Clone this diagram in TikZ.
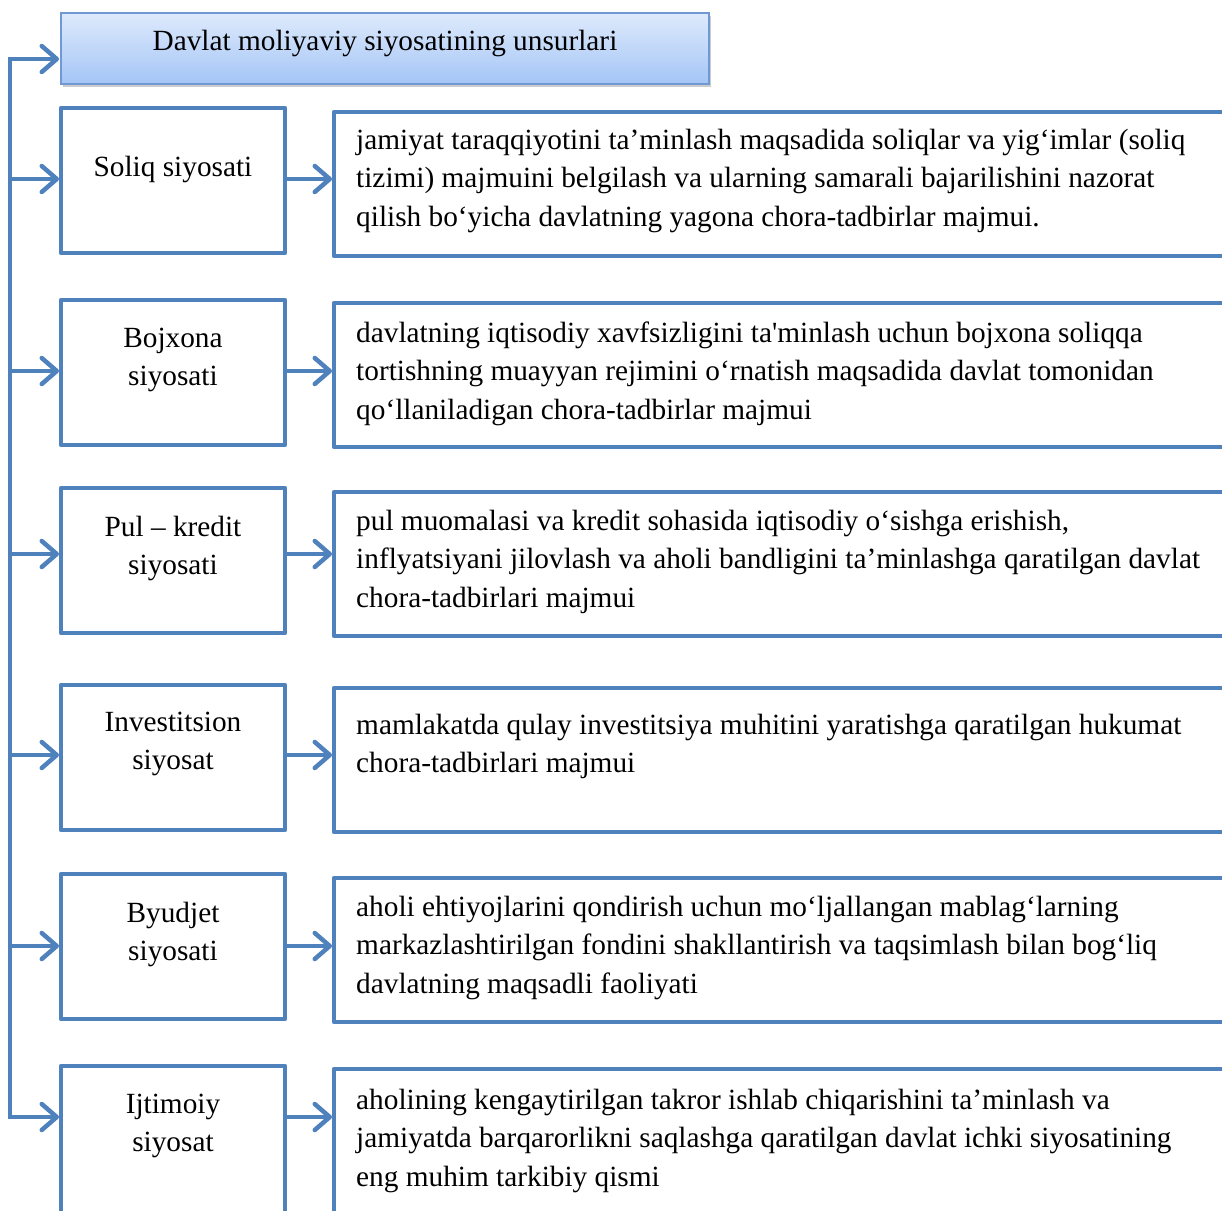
\documentclass[tikz,border=0pt]{standalone}
\usepackage{fontspec}
\setmainfont{Liberation Serif}
\usetikzlibrary{arrows.meta,shadows}

\definecolor{frame}{RGB}{79,129,189}
\definecolor{titletop}{RGB}{222,234,252}
\definecolor{titlebot}{RGB}{164,197,246}
\definecolor{titleedge}{RGB}{112,152,210}

\begin{document}
\begin{tikzpicture}[x=1pt,y=-1pt,
  panel/.style={draw=frame, line width=4.5pt, line join=round, rectangle,
    inner sep=0pt, outer sep=0pt, anchor=north west, fill=white},
  namebox/.style={panel, minimum width=224pt, minimum height=145pt},
  infobox/.style={panel, minimum width=920pt, minimum height=144pt},
  titlebox/.style={rectangle, draw=titleedge, line width=1.6pt, inner sep=0pt,
    outer sep=0pt, anchor=north west, minimum width=648pt, minimum height=71pt,
    top color=titletop, bottom color=titlebot,
    drop shadow={shadow xshift=1.5pt, shadow yshift=-3pt, fill=black!40}},
  link/.style={draw=frame, line width=4.5pt, line join=miter,
    -{Straight Barb[length=15pt,width=26pt,round]}, shorten >=2pt},
  txt/.style={inner sep=0pt, font=\fontsize{29.3}{38.5}\selectfont},
  infotext/.style={txt, anchor=base west},
  nametext/.style={txt, anchor=base}
]
\useasboundingbox (0,0) rectangle (1222,1210);
\clip (0,0) rectangle (1222,1210);

% heading
\node[titlebox] (title) at (61,13) {};
\node[nametext] (titletext) at (385,50) {Davlat moliyaviy siyosatining unsurlari};

% left-hand boxes with the policy names
\node[namebox] (l1) at (61,108)  {};
\node[namebox] (l2) at (61,300)  {};
\node[namebox] (l3) at (61,488)  {};
\node[namebox] (l4) at (61,685)  {};
\node[namebox] (l5) at (61,874)  {};
\node[namebox, minimum height=170pt] (l6) at (61,1066) {};

% right-hand boxes with the definitions
\node[infobox] (r1) at (334,112)  {};
\node[infobox] (r2) at (334,303)  {};
\node[infobox] (r3) at (334,492)  {};
\node[infobox] (r4) at (334,688)  {};
\node[infobox] (r5) at (334,878)  {};
\node[infobox, minimum height=170pt] (r6) at (334,1069) {};

% names
\node[nametext] (n1) at (173,176) {\parbox[t]{220pt}{\centering Soliq siyosati}};
\node[nametext] (n2) at (173,347) {\parbox[t]{220pt}{\centering Bojxona\\siyosati}};
\node[nametext] (n3) at (173,536) {\parbox[t]{220pt}{\centering Pul – kredit\\siyosati}};
\node[nametext] (n4) at (173,731) {\parbox[t]{220pt}{\centering Investitsion\\siyosat}};
\node[nametext] (n5) at (173,922) {\parbox[t]{220pt}{\centering Byudjet\\siyosati}};
\node[nametext] (n6) at (173,1113) {\parbox[t]{220pt}{\centering Ijtimoiy\\siyosat}};

% definitions
\node[infotext] (d1) at (356,149) {\parbox[t]{880pt}{\raggedright
  jamiyat taraqqiyotini ta’minlash maqsadida soliqlar va yig‘imlar (soliq\\
  tizimi) majmuini belgilash va ularning samarali bajarilishini nazorat\\
  qilish bo‘yicha davlatning yagona chora-tadbirlar majmui.}};
\node[infotext] (d2) at (356,342) {\parbox[t]{880pt}{\raggedright
  davlatning iqtisodiy xavfsizligini ta\textquotesingle minlash uchun bojxona soliqqa\\
  tortishning muayyan rejimini o‘rnatish maqsadida davlat tomonidan\\
  qo‘llaniladigan chora-tadbirlar majmui}};
\node[infotext] (d3) at (356,530) {\parbox[t]{880pt}{\raggedright
  pul muomalasi va kredit sohasida iqtisodiy o‘sishga erishish,\\
  inflyatsiyani jilovlash va aholi bandligini ta’minlashga qaratilgan davlat\\
  chora-tadbirlari majmui}};
\node[infotext] (d4) at (356,734) {\parbox[t]{880pt}{\raggedright
  mamlakatda qulay investitsiya muhitini yaratishga qaratilgan hukumat\\
  chora-tadbirlari majmui}};
\node[infotext] (d5) at (356,916) {\parbox[t]{880pt}{\raggedright
  aholi ehtiyojlarini qondirish uchun mo‘ljallangan mablag‘larning\\
  markazlashtirilgan fondini shakllantirish va taqsimlash bilan bog‘liq\\
  davlatning maqsadli faoliyati}};
\node[infotext] (d6) at (356,1109) {\parbox[t]{880pt}{\raggedright
  aholining kengaytirilgan takror ishlab chiqarishini ta’minlash va\\
  jamiyatda barqarorlikni saqlashga qaratilgan davlat ichki siyosatining\\
  eng muhim tarkibiy qismi}};

% connector heights
\coordinate (bt) at (10,59);
\coordinate (a1) at (10,179);
\coordinate (a2) at (10,371);
\coordinate (a3) at (10,554);
\coordinate (a4) at (10,755);
\coordinate (a5) at (10,946);
\coordinate (a6) at (10,1117);

% left bus with arrows to the heading and to every name box
\draw[link] (a1) -- (bt) -- (title.west |- bt);
\draw[link] (a1) -- (a6) -- (l6.west |- a6);
\foreach \i in {1,...,5}{
  \draw[link] (a\i) -- (l\i.west |- a\i);
}

% arrows from names to definitions
\foreach \i in {1,...,6}{
  \draw[link] (l\i.east |- a\i) -- (r\i.west |- a\i);
}
\end{tikzpicture}
\end{document}
